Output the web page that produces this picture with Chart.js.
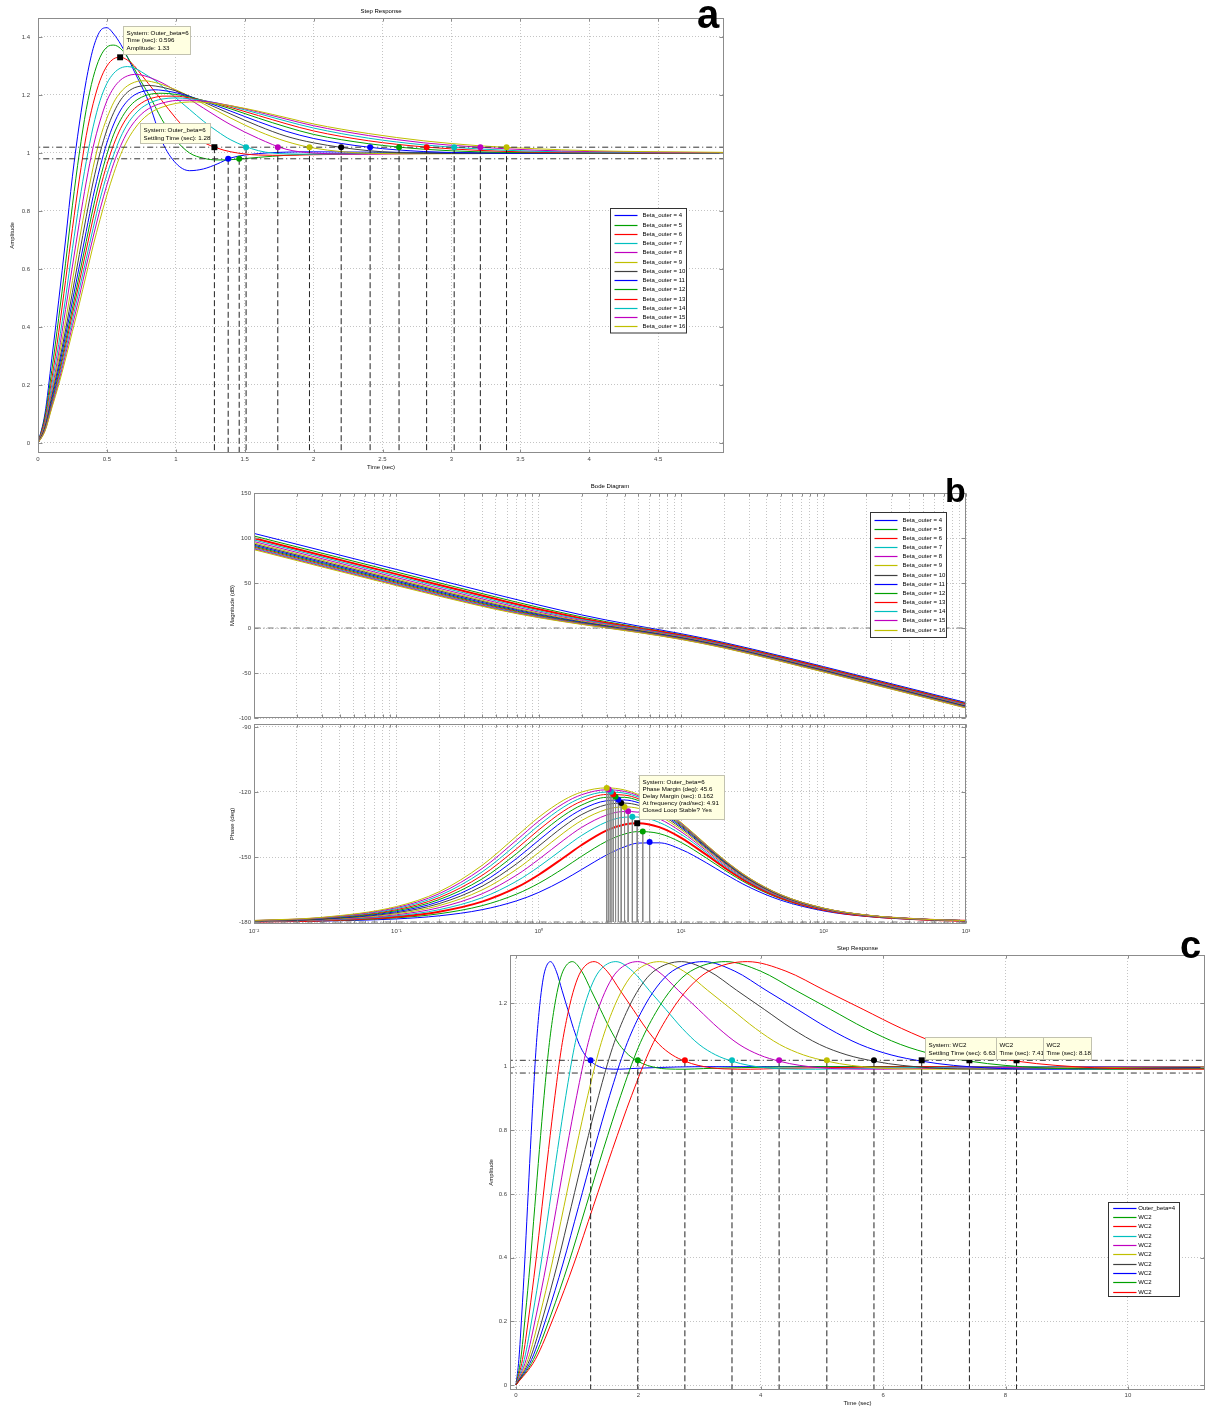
<!DOCTYPE html>
<html lang="en">
<head>
  <meta charset="UTF-8" />
  <title>Step Response and Bode Diagram – Beta_outer sweep</title>
  <script src="https://cdn.jsdelivr.net/npm/chart.js"></script>
  <style>
    body { margin: 0; background: #fff; width: 1210px; height: 1410px; position: relative; overflow: hidden; }
    canvas { position: absolute; }
  </style>
</head>
<body>
  <canvas id="stepA" width="735" height="475" style="left:0;top:0"></canvas>
  <canvas id="bodeMag" width="775" height="252" style="left:200px;top:470px"></canvas>
  <canvas id="bodePhase" width="775" height="225" style="left:200px;top:720px"></canvas>
  <canvas id="stepC" width="740" height="482" style="left:470px;top:928px"></canvas>
  <script>
    // ---------- data ----------
    const BETAS = [4, 5, 6, 7, 8, 9, 10, 11, 12, 13, 14, 15, 16];
    const BAND = [0.98, 1.02];

    // panel a: step responses, one row per Beta_outer
    const T_A = [0, 0.05, 0.1, 0.15, 0.2, 0.25, 0.3, 0.35, 0.4, 0.45, 0.5, 0.55, 0.6, 0.65, 0.7, 0.75, 0.8, 0.85, 0.9, 1.0, 1.1, 1.2, 1.3, 1.4, 1.6, 1.8, 2.0, 2.4, 2.8, 3.2, 3.6, 4.0, 5.0];
    const STEP_A = [
      [0, 0.10, 0.29, 0.49, 0.70, 0.92, 1.10, 1.25, 1.36, 1.42, 1.432, 1.41, 1.375, 1.33, 1.28, 1.232, 1.18, 1.11, 1.04, 0.965, 0.939, 0.945, 0.962, 0.983, 0.998, 1.003, 1.004, 1.003, 1.002, 1.001, 1.001, 1.0, 1.0],
      [0, 0.09, 0.25, 0.43, 0.62, 0.82, 1.0, 1.15, 1.26, 1.33, 1.365, 1.372, 1.36, 1.33, 1.29, 1.245, 1.205, 1.16, 1.115, 1.045, 1.0, 0.982, 0.976, 0.977, 0.985, 0.992, 0.996, 0.999, 1.0, 1.0, 1.0, 1.0, 1.0],
      [0, 0.08, 0.22, 0.38, 0.56, 0.74, 0.91, 1.06, 1.17, 1.25, 1.30, 1.325, 1.33, 1.32, 1.30, 1.27, 1.24, 1.21, 1.18, 1.12, 1.07, 1.037, 1.017, 1.004, 0.993, 0.992, 0.994, 0.997, 0.999, 1.0, 1.0, 1.0, 1.0],
      [0, 0.07, 0.20, 0.34, 0.50, 0.67, 0.83, 0.97, 1.09, 1.18, 1.24, 1.275, 1.293, 1.298, 1.293, 1.28, 1.265, 1.25, 1.23, 1.19, 1.15, 1.11, 1.075, 1.045, 1.008, 0.997, 0.996, 0.998, 0.999, 1.0, 1.0, 1.0, 1.0],
      [0, 0.065, 0.18, 0.31, 0.46, 0.61, 0.76, 0.90, 1.02, 1.11, 1.18, 1.225, 1.252, 1.266, 1.271, 1.269, 1.262, 1.253, 1.242, 1.215, 1.185, 1.155, 1.125, 1.097, 1.05, 1.013, 1.0, 0.996, 0.998, 0.999, 1.0, 1.0, 1.0],
      [0, 0.06, 0.17, 0.29, 0.42, 0.56, 0.70, 0.83, 0.95, 1.05, 1.12, 1.175, 1.21, 1.232, 1.244, 1.249, 1.248, 1.243, 1.236, 1.218, 1.195, 1.17, 1.145, 1.12, 1.075, 1.04, 1.017, 0.999, 0.997, 0.998, 0.999, 1.0, 1.0],
      [0, 0.055, 0.16, 0.27, 0.39, 0.52, 0.65, 0.78, 0.90, 1.0, 1.08, 1.14, 1.183, 1.21, 1.225, 1.231, 1.233, 1.231, 1.227, 1.214, 1.196, 1.176, 1.155, 1.134, 1.093, 1.058, 1.035, 1.008, 0.999, 0.998, 0.999, 1.0, 1.0],
      [0, 0.05, 0.15, 0.255, 0.37, 0.49, 0.61, 0.73, 0.85, 0.95, 1.035, 1.10, 1.148, 1.18, 1.20, 1.211, 1.216, 1.218, 1.216, 1.208, 1.195, 1.179, 1.162, 1.144, 1.108, 1.075, 1.05, 1.02, 1.005, 1.0, 0.999, 1.0, 1.0],
      [0, 0.048, 0.14, 0.24, 0.35, 0.465, 0.58, 0.695, 0.81, 0.91, 0.995, 1.065, 1.115, 1.152, 1.177, 1.192, 1.201, 1.205, 1.206, 1.202, 1.193, 1.181, 1.167, 1.152, 1.12, 1.09, 1.064, 1.032, 1.013, 1.004, 1.001, 1.0, 1.0],
      [0, 0.046, 0.135, 0.23, 0.335, 0.445, 0.555, 0.665, 0.775, 0.875, 0.96, 1.03, 1.085, 1.125, 1.153, 1.172, 1.185, 1.192, 1.196, 1.196, 1.19, 1.181, 1.17, 1.157, 1.129, 1.101, 1.076, 1.042, 1.021, 1.009, 1.003, 1.001, 1.0],
      [0, 0.044, 0.13, 0.22, 0.32, 0.425, 0.53, 0.635, 0.74, 0.84, 0.925, 0.995, 1.055, 1.10, 1.132, 1.155, 1.17, 1.18, 1.186, 1.19, 1.187, 1.181, 1.172, 1.161, 1.136, 1.11, 1.086, 1.051, 1.028, 1.014, 1.006, 1.003, 1.0],
      [0, 0.042, 0.125, 0.21, 0.305, 0.405, 0.505, 0.61, 0.71, 0.805, 0.89, 0.965, 1.025, 1.073, 1.108, 1.134, 1.152, 1.164, 1.172, 1.181, 1.182, 1.179, 1.172, 1.163, 1.141, 1.117, 1.094, 1.06, 1.035, 1.02, 1.01, 1.005, 1.001],
      [0, 0.04, 0.12, 0.20, 0.29, 0.385, 0.48, 0.58, 0.68, 0.77, 0.855, 0.93, 0.995, 1.045, 1.083, 1.112, 1.133, 1.148, 1.158, 1.171, 1.176, 1.175, 1.17, 1.163, 1.144, 1.122, 1.10, 1.067, 1.042, 1.025, 1.015, 1.008, 1.002]
    ];
    const SETTLE_A = [1.38, 1.46, 1.28, 1.51, 1.74, 1.97, 2.20, 2.41, 2.62, 2.82, 3.02, 3.21, 3.40];
    const SETTLE_LVL_A = [0.98, 0.98, 1.02, 1.02, 1.02, 1.02, 1.02, 1.02, 1.02, 1.02, 1.02, 1.02, 1.02];
    const PEAK_A = [0.596, 1.33];

    // panel b: open-loop Bode data
    const W_MAG = [0.01, 0.1, 0.5, 1, 2, 3, 5, 10, 20, 50, 100, 1000];
    const MAG_B = [
      [105.1, 65.1, 37.26, 25.53, 14.54, 8.77, 2.21, -6.35, -16.14, -31.05, -42.92, -82.86],
      [102.2, 62.2, 34.42, 22.86, 12.33, 6.94, 0.81, -7.45, -17.13, -32.01, -43.88, -83.82],
      [99.82, 59.83, 32.12, 20.76, 10.67, 5.60, -0.24, -8.32, -17.95, -32.81, -44.68, -84.62],
      [97.81, 57.83, 30.20, 19.06, 9.39, 4.56, -1.07, -9.04, -18.63, -33.49, -45.35, -85.29],
      [96.08, 56.09, 28.57, 17.64, 8.35, 3.72, -1.76, -9.65, -19.22, -34.07, -45.93, -85.87],
      [94.54, 54.56, 27.14, 16.45, 7.50, 3.02, -2.35, -10.17, -19.73, -34.58, -46.44, -86.38],
      [93.17, 53.20, 25.90, 15.43, 6.78, 2.42, -2.86, -10.64, -20.19, -35.03, -46.89, -86.83],
      [91.93, 51.96, 24.79, 14.54, 6.16, 1.91, -3.32, -11.07, -20.61, -35.46, -47.31, -87.26],
      [90.79, 50.83, 23.79, 13.77, 5.62, 1.45, -3.72, -11.46, -20.99, -35.83, -47.69, -87.63],
      [89.75, 49.80, 22.90, 13.09, 5.14, 1.04, -4.10, -11.81, -21.34, -36.17, -48.03, -87.97],
      [88.78, 48.84, 22.09, 12.48, 4.71, 0.66, -4.44, -12.14, -21.66, -36.50, -48.36, -88.30],
      [87.89, 47.95, 21.35, 11.94, 4.33, 0.32, -4.75, -12.44, -21.96, -36.80, -48.66, -88.60],
      [87.04, 47.12, 20.67, 11.45, 3.98, 0.0, -5.05, -12.73, -22.25, -37.08, -48.94, -88.88]
    ];
    const W_PH = [0.01, 0.03, 0.1, 0.2, 0.4, 0.7, 1, 1.5, 2, 3, 4, 5, 7, 10, 15, 20, 30, 50, 100, 200, 500, 1000];
    const PHASE_B = [
      [-179.86, -179.57, -178.57, -177.14, -174.31, -170.21, -166.33, -160.56, -155.77, -149.04, -145.30, -143.58, -143.46, -146.51, -152.65, -157.57, -163.91, -169.93, -174.88, -177.43, -178.97, -179.48],
      [-179.81, -179.43, -178.09, -176.19, -172.45, -167.08, -162.14, -155.12, -149.65, -142.70, -139.40, -138.26, -139.18, -143.31, -150.43, -155.88, -162.77, -169.25, -174.53, -177.26, -178.91, -179.45],
      [-179.76, -179.28, -177.62, -175.24, -170.60, -164.05, -158.19, -150.25, -144.46, -137.73, -135.0, -134.42, -136.21, -141.12, -148.93, -154.75, -162.01, -168.79, -174.31, -177.14, -178.86, -179.42],
      [-179.71, -179.14, -177.14, -174.30, -168.78, -161.13, -154.50, -145.93, -140.06, -133.78, -131.63, -131.54, -134.02, -139.54, -147.86, -153.94, -161.47, -168.46, -174.14, -177.06, -178.83, -179.41],
      [-179.67, -179.0, -176.66, -173.36, -166.98, -158.32, -151.07, -142.12, -136.33, -130.60, -128.99, -129.32, -132.35, -138.34, -147.05, -153.33, -161.06, -168.22, -174.02, -177.0, -178.8, -179.4],
      [-179.62, -178.85, -176.19, -172.42, -165.21, -155.64, -147.89, -138.75, -133.15, -128.0, -126.87, -127.55, -131.04, -137.40, -146.42, -152.85, -160.75, -168.03, -173.92, -176.95, -178.78, -179.39],
      [-179.57, -178.71, -175.71, -171.49, -163.47, -153.08, -144.95, -135.78, -130.42, -125.84, -125.13, -126.12, -129.99, -136.65, -145.91, -152.47, -160.49, -167.87, -173.85, -176.91, -178.77, -179.38],
      [-179.52, -178.57, -175.24, -170.57, -161.77, -150.65, -142.25, -133.15, -128.07, -124.02, -123.69, -124.93, -129.12, -136.04, -145.50, -152.16, -160.28, -167.75, -173.79, -176.88, -178.76, -179.37],
      [-179.48, -178.43, -174.77, -169.64, -160.11, -148.35, -139.76, -130.81, -126.03, -122.47, -122.47, -123.93, -128.39, -135.52, -145.15, -151.90, -160.11, -167.65, -173.73, -176.86, -178.74, -179.37],
      [-179.43, -178.28, -174.30, -168.73, -158.48, -146.16, -137.47, -128.73, -124.24, -121.14, -121.43, -123.08, -127.77, -135.08, -144.86, -151.68, -159.96, -167.56, -173.69, -176.83, -178.74, -179.36],
      [-179.38, -178.14, -173.82, -167.82, -156.89, -144.10, -135.36, -126.86, -122.66, -119.99, -120.52, -122.35, -127.24, -134.71, -144.61, -151.50, -159.84, -167.48, -173.65, -176.82, -178.73, -179.36],
      [-179.33, -178.0, -173.35, -166.92, -155.34, -142.15, -133.42, -125.19, -121.26, -118.97, -119.74, -121.71, -126.78, -134.38, -144.39, -151.33, -159.73, -167.42, -173.62, -176.8, -178.72, -179.36],
      [-179.28, -177.85, -172.88, -166.02, -153.84, -140.31, -131.63, -123.69, -120.02, -118.08, -119.05, -121.15, -126.38, -134.10, -144.20, -151.19, -159.63, -167.36, -173.59, -176.78, -178.72, -179.35]
    ];
    const PM_W = [6.0, 5.37, 4.91, 4.54, 4.24, 4.0, 3.79, 3.62, 3.46, 3.33, 3.21, 3.10, 3.0];
    const PM_PH = [-143.1, -138.2, -134.4, -131.4, -128.9, -126.9, -125.1, -123.6, -122.2, -121.0, -119.9, -118.9, -118.1];

    // panel c: ten step responses, same amplitude profile, each with its own time stamps
    const AMP_C = [0, 0.08, 0.22, 0.38, 0.56, 0.74, 0.91, 1.06, 1.17, 1.25, 1.30, 1.33, 1.30, 1.24, 1.18, 1.12, 1.07, 1.037, 1.017, 1.004, 0.993, 0.992, 0.994, 0.997, 0.999, 1.0, 1.0];
    const TIME_C = [
      [0, 0.047, 0.094, 0.141, 0.188, 0.235, 0.282, 0.329, 0.376, 0.423, 0.47, 0.564, 0.658, 0.752, 0.846, 0.94, 1.034, 1.128, 1.222, 1.316, 1.504, 1.692, 1.88, 2.256, 2.632, 3.008, 30],
      [0, 0.077, 0.153, 0.23, 0.307, 0.383, 0.46, 0.537, 0.613, 0.69, 0.767, 0.92, 1.073, 1.227, 1.38, 1.533, 1.686, 1.84, 1.993, 2.146, 2.453, 2.76, 3.066, 3.679, 4.293, 4.906, 30],
      [0, 0.106, 0.213, 0.319, 0.425, 0.532, 0.638, 0.744, 0.851, 0.957, 1.063, 1.276, 1.488, 1.701, 1.914, 2.126, 2.339, 2.552, 2.764, 2.977, 3.402, 3.827, 4.253, 5.103, 5.954, 6.804, 30],
      [0, 0.136, 0.272, 0.408, 0.544, 0.68, 0.816, 0.952, 1.088, 1.224, 1.36, 1.632, 1.904, 2.176, 2.448, 2.719, 2.991, 3.263, 3.535, 3.807, 4.351, 4.895, 5.439, 6.527, 7.614, 8.702, 30],
      [0, 0.166, 0.331, 0.497, 0.663, 0.828, 0.994, 1.16, 1.325, 1.491, 1.657, 1.988, 2.319, 2.651, 2.982, 3.314, 3.645, 3.976, 4.308, 4.639, 5.302, 5.964, 6.627, 7.952, 9.278, 10.603, 30],
      [0, 0.196, 0.391, 0.587, 0.783, 0.979, 1.174, 1.37, 1.566, 1.761, 1.957, 2.348, 2.74, 3.131, 3.523, 3.914, 4.306, 4.697, 5.088, 5.48, 6.263, 7.046, 7.828, 9.394, 10.96, 12.525, 30],
      [0, 0.225, 0.451, 0.676, 0.902, 1.127, 1.352, 1.578, 1.803, 2.028, 2.254, 2.704, 3.155, 3.606, 4.057, 4.507, 4.958, 5.409, 5.86, 6.31, 7.212, 8.113, 9.015, 10.818, 12.62, 14.423, 30],
      [0, 0.255, 0.511, 0.766, 1.022, 1.277, 1.532, 1.788, 2.043, 2.299, 2.554, 3.065, 3.576, 4.086, 4.597, 5.108, 5.619, 6.13, 6.64, 7.151, 8.173, 9.194, 10.216, 12.259, 14.302, 16.346, 30],
      [0, 0.285, 0.571, 0.856, 1.142, 1.427, 1.713, 1.998, 2.284, 2.569, 2.855, 3.426, 3.997, 4.568, 5.139, 5.71, 6.281, 6.852, 7.422, 7.993, 9.135, 10.277, 11.419, 13.703, 15.987, 18.271, 30],
      [0, 0.315, 0.63, 0.945, 1.261, 1.576, 1.891, 2.206, 2.521, 2.836, 3.151, 3.782, 4.412, 5.042, 5.672, 6.303, 6.933, 7.563, 8.194, 8.824, 10.084, 11.345, 12.605, 15.127, 17.648, 20.169, 30]
    ];
    const SETTLE_C = [1.22, 1.99, 2.76, 3.53, 4.30, 5.08, 5.85, 6.63, 7.41, 8.18];
    const LEGEND_C = ['Outer_beta=4', 'WC2', 'WC2', 'WC2', 'WC2', 'WC2', 'WC2', 'WC2', 'WC2', 'WC2'];

    // tick values
    const X_TICKS_A = [0, 0.5, 1, 1.5, 2, 2.5, 3, 3.5, 4, 4.5];
    const Y_TICKS_A = [0, 0.2, 0.4, 0.6, 0.8, 1, 1.2, 1.4];
    const MAG_TICKS = [-100, -50, 0, 50, 100, 150];
    const PHASE_TICKS = [-180, -150, -120, -90];
    const DECADES = [0.01, 0.1, 1, 10, 100, 1000];
    const X_TICKS_C = [0, 2, 4, 6, 8, 10];
    const Y_TICKS_C = [0, 0.2, 0.4, 0.6, 0.8, 1, 1.2];

    // ---------- styling helpers ----------
    const FONT = 'Arial, "Liberation Sans", sans-serif';
    const CYCLE = ['#0000ff', '#00a000', '#ff0000', '#00bfbf', '#bf00bf', '#bfbf00', '#404040'];
    const lineColor = i => CYCLE[i % 7];
    const dotColor = i => (i % 7 === 6 ? '#000000' : CYCLE[i % 7]);
    const SUP = { '-': '\u207B', '0': '\u2070', '1': '\u00B9', '2': '\u00B2', '3': '\u00B3' };

    const LOG_TICKS = [];
    DECADES.forEach((d, i) => {
      const last = i === DECADES.length - 1 ? 1 : 9;
      for (let m = 1; m <= last; m++) LOG_TICKS.push(+(d * m).toPrecision(3));
    });

    function axis(o) {
      return {
        type: o.type || 'linear',
        bounds: 'data',
        min: o.min, max: o.max,
        afterBuildTicks: s => { s.ticks = o.ticks.map(v => ({ value: v })); },
        afterFit: s => {
          if (o.vertical) s.width = o.size; else s.height = o.size;
          s.paddingLeft = s.paddingRight = s.paddingTop = s.paddingBottom = 0;
        },
        grid: { color: '#c4c4c4', lineWidth: 1, drawTicks: false },
        border: { display: false, dash: [1, 2] },
        ticks: {
          display: o.labels !== false, font: { family: FONT, size: 6 }, color: '#444',
          padding: o.pad, maxRotation: 0, autoSkip: false,
          callback: o.fmt || (v => String(v))
        },
        title: o.title
          ? { display: true, text: o.title, font: { family: FONT, size: 6 }, color: '#111', padding: o.titlePad }
          : { display: false }
      };
    }

    function logLabel(v) {
      const e = Math.round(Math.log10(v));
      if (Math.abs(Math.log10(v) - e) > 1e-6) return '';
      return '10' + String(e).split('').map(c => SUP[c]).join('');
    }

    function curve(xs, ys, color, width, order) {
      return {
        data: xs.map((x, i) => ({ x, y: ys[i] })),
        borderColor: color, backgroundColor: color, borderWidth: width,
        pointRadius: 0, cubicInterpolationMode: 'monotone', fill: false, order
      };
    }

    function refLine(points, color, dash, order) {
      return { data: points, borderColor: color, borderWidth: 1, borderDash: dash, pointRadius: 0, fill: false, order };
    }

    function dots(xs, ys, colors, styles, order) {
      return {
        data: xs.map((x, i) => ({ x, y: ys[i] })),
        showLine: false, pointStyle: styles,
        pointRadius: styles.map(s => (s === 'rect' ? 4.2 : 3)),
        pointBackgroundColor: colors, pointBorderColor: colors, pointBorderWidth: 0, order
      };
    }

    // boxes, inward ticks, titles, legends, data tips, panel letters
    const decor = {
      id: 'decor',
      afterDatasetsDraw(chart, args, o) {
        if (!o || !o.frame) return;
        const { ctx, chartArea: a, scales: { x, y } } = chart;
        ctx.save();
        ctx.setLineDash([]);
        ctx.lineWidth = 1;
        ctx.strokeStyle = '#8c8c8c';
        const L = Math.round(a.left) + 0.5, T = Math.round(a.top) + 0.5;
        const R = Math.round(a.right) - 0.5, B = Math.round(a.bottom) - 0.5;
        ctx.strokeRect(L, T, R - L, B - T);
        ctx.beginPath();
        x.ticks.forEach(t => {
          const p = Math.round(x.getPixelForValue(t.value)) + 0.5;
          ctx.moveTo(p, B); ctx.lineTo(p, B - 3);
          ctx.moveTo(p, T); ctx.lineTo(p, T + 3);
        });
        y.ticks.forEach(t => {
          const p = Math.round(y.getPixelForValue(t.value)) + 0.5;
          ctx.moveTo(L, p); ctx.lineTo(L + 4, p);
          ctx.moveTo(R, p); ctx.lineTo(R - 4, p);
        });
        ctx.stroke();

        if (o.title) {
          ctx.font = '6px ' + FONT; ctx.fillStyle = '#000';
          ctx.textAlign = 'center'; ctx.textBaseline = 'middle';
          ctx.fillText(o.title, (a.left + a.right) / 2, a.top - 7);
        }

        if (o.legend) {
          const g = o.legend, x0 = Math.round(a.left + g.x) + 0.5, y0 = Math.round(a.top + g.y) + 0.5;
          ctx.fillStyle = '#fff'; ctx.fillRect(x0, y0, g.w, g.h);
          ctx.strokeStyle = '#333'; ctx.strokeRect(x0, y0, g.w, g.h);
          ctx.font = '6px ' + FONT; ctx.textAlign = 'left'; ctx.textBaseline = 'middle';
          g.labels.forEach((s, i) => {
            const yy = Math.round(y0 + g.first + i * g.step) + 0.5;
            ctx.strokeStyle = lineColor(i); ctx.lineWidth = 1.2;
            ctx.beginPath(); ctx.moveTo(x0 + g.lx1, yy); ctx.lineTo(x0 + g.lx2, yy); ctx.stroke();
            ctx.fillStyle = '#000'; ctx.fillText(s, x0 + g.tx, yy);
          });
          ctx.lineWidth = 1;
        }

        (o.tips || []).forEach(tp => {
          const px = x.getPixelForValue(tp.x), py = y.getPixelForValue(tp.y);
          const bx = Math.round(px + tp.dx) + 0.5, by = Math.round(py + tp.dy) + 0.5;
          ctx.fillStyle = '#ffffe1'; ctx.fillRect(bx, by, tp.w, tp.h);
          ctx.strokeStyle = '#c2c2b0'; ctx.strokeRect(bx, by, tp.w, tp.h);
          ctx.fillStyle = '#000'; ctx.font = '6.2px ' + FONT;
          ctx.textAlign = 'left'; ctx.textBaseline = 'middle';
          tp.lines.forEach((s, i) => ctx.fillText(s, bx + 3, by + tp.first + i * tp.step));
        });

        if (o.letter) {
          ctx.fillStyle = '#000'; ctx.font = 'bold ' + o.letter.size + 'px ' + FONT;
          ctx.textAlign = 'left'; ctx.textBaseline = 'alphabetic';
          ctx.fillText(o.letter.text, o.letter.x, o.letter.y);
        }
        ctx.restore();
      }
    };
    Chart.register(decor);

    function makeChart(id, datasets, o) {
      return new Chart(document.getElementById(id), {
        type: 'line',
        data: { datasets },
        options: {
          responsive: false, animation: false, events: [],
          layout: { padding: o.padding },
          plugins: { legend: { display: false }, tooltip: { enabled: false }, decor: Object.assign({ frame: true }, o.decor) },
          scales: { x: o.x, y: o.y }
        }
      });
    }

    // ---------- panel a ----------
    const LEGEND_A = BETAS.map(b => 'Beta_outer = ' + b);
    const dsA = STEP_A.map((ys, i) => curve(T_A, ys, lineColor(i), 1, 100 - i));
    BAND.forEach(v => dsA.push(refLine([{ x: -1, y: v }, { x: 99, y: v }], '#333', [6, 3, 1, 3], -10)));
    SETTLE_A.forEach((t, i) => dsA.push(refLine([{ x: t, y: SETTLE_LVL_A[i] }, { x: t, y: -9 }], '#222', [6, 3], -20)));
    dsA.push(dots(SETTLE_A, SETTLE_LVL_A,
      SETTLE_A.map((t, i) => (i === 2 ? '#000' : dotColor(i))),
      SETTLE_A.map((t, i) => (i === 2 ? 'rect' : 'circle')), -30));
    dsA.push(dots([PEAK_A[0]], [PEAK_A[1]], ['#000'], ['rect'], -31));

    makeChart('stepA', dsA, {
      padding: { left: 0, top: 18, right: 11, bottom: 0 },
      x: axis({ min: 0, max: 4.978, ticks: X_TICKS_A, size: 22, pad: 3, title: 'Time (sec)', titlePad: { bottom: 4 } }),
      y: axis({ min: -0.0345, max: 1.4655, ticks: Y_TICKS_A, size: 38, vertical: true, pad: 8, title: 'Amplitude', titlePad: { top: 9 } }),
      decor: {
        title: 'Step Response',
        letter: { text: 'a', x: 697, y: 28, size: 40 },
        legend: { x: 572, y: 189.5, w: 76, h: 124.5, first: 6.8, step: 9.25, lx1: 4, lx2: 27, tx: 32, labels: LEGEND_A },
        tips: [
          { x: PEAK_A[0], y: PEAK_A[1], dx: 3, dy: -31, w: 67, h: 28, first: 6.3, step: 7.7,
            lines: ['System: Outer_beta=6', 'Time (sec): ' + PEAK_A[0], 'Amplitude: ' + PEAK_A[1]] },
          { x: SETTLE_A[2], y: SETTLE_LVL_A[2], dx: -74, dy: -24, w: 70, h: 20, first: 6.5, step: 8,
            lines: ['System: Outer_beta=6', 'Settling Time (sec): ' + SETTLE_A[2]] }
        ]
      }
    });

    // ---------- panel b: magnitude ----------
    const dsMag = MAG_B.map((ys, i) => curve(W_MAG, ys, lineColor(i), i === 2 ? 2 : 1, 100 - i));
    dsMag.push(refLine([{ x: 0.001, y: 0 }, { x: 10000, y: 0 }], '#777', [6, 3, 1, 3], -10));
    makeChart('bodeMag', dsMag, {
      padding: { left: 0, top: 23, right: 9, bottom: 4 },
      x: axis({ type: 'logarithmic', min: 0.01, max: 1000, ticks: LOG_TICKS, size: 0, labels: false }),
      y: axis({ min: -100, max: 150, ticks: MAG_TICKS, size: 54, vertical: true, pad: 3, title: 'Magnitude (dB)', titlePad: { top: 29 } }),
      decor: {
        title: 'Bode Diagram',
        letter: { text: 'b', x: 745, y: 32, size: 34 },
        legend: { x: 616, y: 19, w: 76, h: 125, first: 7, step: 9.17, lx1: 4, lx2: 27, tx: 32, labels: LEGEND_A }
      }
    });

    // ---------- panel b: phase ----------
    const dsPh = PHASE_B.map((ys, i) => curve(W_PH, ys, lineColor(i), i === 2 ? 2 : 1, 100 - i));
    dsPh.push(refLine([{ x: 0.001, y: -180 }, { x: 10000, y: -180 }], '#777', [6, 3, 1, 3], -10));
    PM_W.forEach((w, i) => dsPh.push(refLine([{ x: w, y: PM_PH[i] }, { x: w, y: -180 }], '#8a8a8a', [], -20)));
    dsPh.push(dots(PM_W, PM_PH,
      PM_W.map((w, i) => (i === 2 ? '#000' : dotColor(i))),
      PM_W.map((w, i) => (i === 2 ? 'rect' : 'circle')), -30));
    makeChart('bodePhase', dsPh, {
      padding: { left: 0, top: 4, right: 9, bottom: 0 },
      x: axis({ type: 'logarithmic', min: 0.01, max: 1000, ticks: LOG_TICKS, size: 21, pad: 4, fmt: logLabel }),
      y: axis({ min: -180.92, max: -88.62, ticks: PHASE_TICKS, size: 54, vertical: true, pad: 3, title: 'Phase (deg)', titlePad: { top: 29 } }),
      decor: {
        tips: [
          { x: PM_W[2], y: PM_PH[2], dx: 2, dy: -48, w: 85, h: 44, first: 6.7, step: 7.1,
            lines: ['System: Outer_beta=6', 'Phase Margin (deg): 45.6', 'Delay Margin (sec): 0.162',
                    'At frequency (rad/sec): ' + PM_W[2], 'Closed Loop Stable? Yes'] }
        ]
      }
    });

    // ---------- panel c ----------
    const dsC = TIME_C.map((ts, i) => curve(ts, AMP_C, lineColor(i), 1, 100 - i));
    BAND.forEach(v => dsC.push(refLine([{ x: -1, y: v }, { x: 99, y: v }], '#333', [6, 3, 1, 3], -10)));
    SETTLE_C.forEach(t => dsC.push(refLine([{ x: t, y: BAND[1] }, { x: t, y: -9 }], '#222', [6, 3], -20)));
    dsC.push(dots(SETTLE_C, SETTLE_C.map(() => BAND[1]),
      SETTLE_C.map((t, i) => (i >= 7 ? '#000' : dotColor(i))),
      SETTLE_C.map((t, i) => (i >= 7 ? 'rect' : 'circle')), -30));
    makeChart('stepC', dsC, {
      padding: { left: 0, top: 27, right: 5, bottom: 0 },
      x: axis({ min: -0.098, max: 11.26, ticks: X_TICKS_C, size: 20, pad: 2, title: 'Time (sec)', titlePad: { bottom: 3 } }),
      y: axis({ min: -0.0157, max: 1.3508, ticks: Y_TICKS_C, size: 40, vertical: true, pad: 3, title: 'Amplitude', titlePad: { top: 18 } }),
      decor: {
        title: 'Step Response',
        letter: { text: 'c', x: 1180 - 470, y: 30, size: 38 },
        legend: { x: 598, y: 246.7, w: 71, h: 94, first: 5.3, step: 9.3, lx1: 4.7, lx2: 28, tx: 29.7, labels: LEGEND_C },
        tips: [
          { x: SETTLE_C[7], y: BAND[1], dx: 3, dy: -23, w: 71, h: 22, first: 8, step: 7.7,
            lines: ['System: WC2', 'Settling Time (sec): ' + SETTLE_C[7]] },
          { x: SETTLE_C[8], y: BAND[1], dx: 26.5, dy: -23, w: 47, h: 22, first: 8, step: 7.7,
            lines: ['WC2', 'Time (sec): ' + SETTLE_C[8]] },
          { x: SETTLE_C[9], y: BAND[1], dx: 26.4, dy: -23, w: 48, h: 22, first: 8, step: 7.7,
            lines: ['WC2', 'Time (sec): ' + SETTLE_C[9]] }
        ]
      }
    });
  </script>
</body>
</html>
